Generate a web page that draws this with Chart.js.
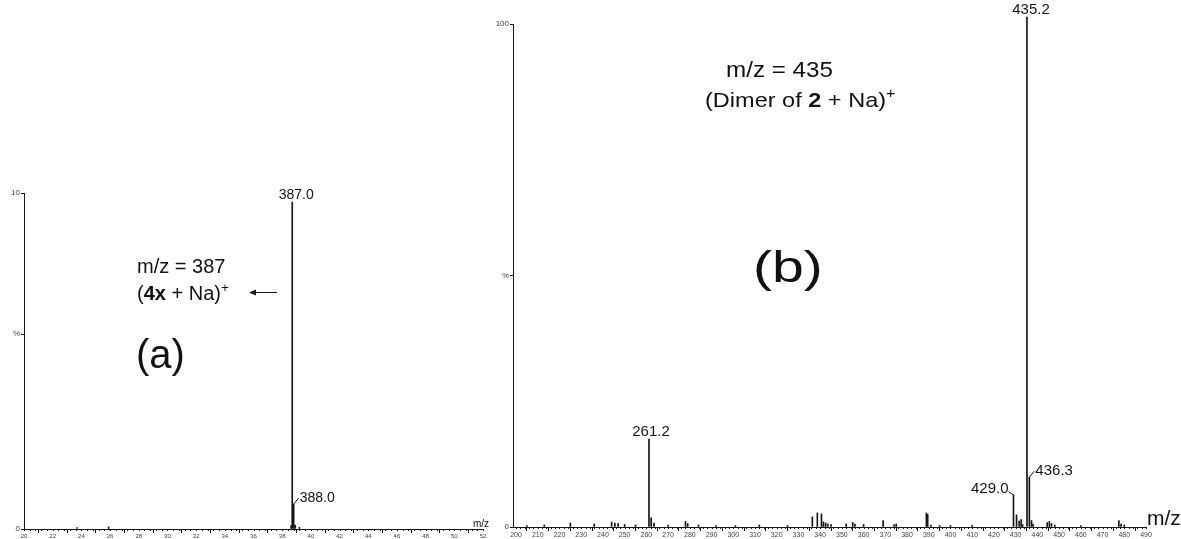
<!DOCTYPE html>
<html>
<head>
<meta charset="utf-8">
<script src="https://cdn.jsdelivr.net/npm/chart.js@4.4.0/dist/chart.umd.min.js"></script>
<style>
  body { margin: 0; background: #fff; width: 1181px; height: 539px; overflow: hidden; position: relative;
         font-family: "Liberation Sans", Arial, sans-serif; }
  .wrap { position: absolute; top: 0; height: 539px; }
  .note { position: absolute; color: #111; white-space: nowrap; line-height: 1; transform-origin: left top; }
  .note sup { font-size: 0.68em; vertical-align: 0.62em; line-height: 0; }
</style>
</head>
<body>
<div class="wrap" style="left:0;width:495px"><canvas id="chartA"></canvas></div>
<div class="wrap" style="left:490px;width:691px"><canvas id="chartB"></canvas></div>

<!-- anotações do painel (a) -->
<div class="note" style="left:137px;top:256px;font-size:20px">m/z = 387</div>
<div class="note" style="left:137px;top:283px;font-size:20px">(<b>4x</b> + Na)<sup>+</sup></div>
<div class="note" style="left:136px;top:334px;font-size:40px">(a)</div>
<div class="note" style="left:473px;top:519px;font-size:10px">m/z</div>

<!-- anotações do painel (b) -->
<div class="note" style="left:726px;top:59px;font-size:22px;transform:scaleX(1.1)">m/z = 435</div>
<div class="note" style="left:705px;top:89px;font-size:21px;transform:scaleX(1.12)">(Dimer of <b>2</b> + Na)<sup>+</sup></div>
<div class="note" style="left:753px;top:245px;font-size:44px;transform:scaleX(1.3)">(b)</div>
<div class="note" style="left:1147px;top:507px;font-size:21px">m/z</div>

<script>
// --- DADOS: painel (a) ---
const mzA = [237.0, 259.0, 386.2, 387.0, 388.0, 389.0, 392.0];
const intA = [0.4, 0.6, 1.0, 97.3, 7.4, 1.2, 0.5];
const xTicksA = [200, 220, 240, 260, 280, 300, 320, 340, 360, 380, 400, 420, 440, 460, 480, 500, 520];
const xTickLabelsA = ['20', '22', '24', '26', '28', '30', '32', '34', '36', '38', '40', '42', '44', '46', '48', '50', '52'];
const yTicksA = [0, 58, 100];
const yTickLabelsA = ['0', '%', '10'];
const peakLabelsA = [
    { mz: 387.0, text: '387.0', pos: 'top' },
    { mz: 388.0, text: '388.0', pos: 'right' }
];

// --- DADOS: painel (b) ---
const mzB = [
    205.0, 213.0, 225.0, 236.0, 244.0, 245.5, 247.0, 250.0, 255.0,
    261.2, 262.2, 263.5, 270.0, 278.0, 279.0, 284.0, 292.0, 301.0, 312.0, 325.0,
    336.4, 338.7, 340.6, 341.5, 342.5, 343.5, 345.0, 352.0, 355.0, 356.0, 360.0,
    369.0, 374.0, 375.0, 388.9, 389.5, 391.0, 395.0, 400.0, 410.0,
    429.0, 430.4, 431.6, 432.5, 433.2, 435.2, 436.3, 437.3, 438.0,
    444.5, 445.5, 446.5, 448.0, 460.0, 477.5, 478.5, 480.0
];
const intB = [
    0.3, 0.4, 0.8, 0.6, 1.0, 0.8, 0.7, 0.5, 0.4,
    17.5, 1.8, 0.8, 0.4, 1.1, 0.7, 0.4, 0.3, 0.3, 0.4, 0.3,
    2.0, 2.8, 2.6, 1.0, 0.8, 0.6, 0.5, 0.6, 0.9, 0.6, 0.5,
    1.3, 0.5, 0.6, 2.8, 2.5, 0.4, 0.3, 0.3, 0.3,
    6.4, 2.4, 1.2, 1.5, 0.5, 101.4, 9.9, 1.3, 0.6,
    0.9, 1.1, 0.7, 0.4, 0.3, 1.3, 0.6, 0.4
];
const xTicksB = [200, 210, 220, 230, 240, 250, 260, 270, 280, 290, 300, 310, 320, 330, 340,
                 350, 360, 370, 380, 390, 400, 410, 420, 430, 440, 450, 460, 470, 480, 490];
const xTickLabelsB = xTicksB.map(String);
const yTicksB = [0, 50, 100];
const yTickLabelsB = ['0', '%', '100'];
const peakLabelsB = [
    { mz: 261.2, text: '261.2', pos: 'top', dx: 2 },
    { mz: 429.0, text: '429.0', pos: 'left' },
    { mz: 435.2, text: '435.2', pos: 'top' },
    { mz: 436.3, text: '436.3', pos: 'right' }
];

const FONT = '"Liberation Sans", Arial, sans-serif';
const INK = '#151515';

// rótulos dos picos com linhas de chamada
function peakLabels(labels, mzs, ints, size) {
    return {
        id: 'peakLabels',
        afterDatasetsDraw(chart) {
            const { ctx, scales: { x, y } } = chart;
            ctx.save();
            ctx.font = size + 'px ' + FONT;
            ctx.fillStyle = INK;
            ctx.strokeStyle = INK;
            ctx.lineWidth = 1;
            labels.forEach(l => {
                const i = mzs.indexOf(l.mz);
                const px = x.getPixelForValue(l.mz);
                const py = y.getPixelForValue(ints[i]);
                if (l.pos === 'top') {
                    ctx.textAlign = 'center';
                    ctx.textBaseline = 'alphabetic';
                    ctx.fillText(l.text, px + (l.dx || 4), py - 3);
                } else if (l.pos === 'right') {
                    ctx.beginPath();
                    ctx.moveTo(px, py);
                    ctx.lineTo(px + 5, py - 6);
                    ctx.stroke();
                    ctx.textAlign = 'left';
                    ctx.fillText(l.text, px + 6, py - 2);
                } else {
                    ctx.beginPath();
                    ctx.moveTo(px, py);
                    ctx.lineTo(px - 5, py - 3);
                    ctx.stroke();
                    ctx.textAlign = 'right';
                    ctx.fillText(l.text, px - 5, py - 2);
                }
            });
            ctx.restore();
        }
    };
}

// marcas menores do eixo x (régua)
const minorTicks = {
    id: 'minorTicks',
    afterDraw(chart, args, opts) {
        const { ctx, chartArea, scales: { x } } = chart;
        ctx.save();
        ctx.strokeStyle = INK;
        ctx.lineWidth = 1;
        for (let v = opts.start; v <= x.max + 0.001; v += opts.step) {
            const px = Math.round(x.getPixelForValue(v)) + 0.5;
            ctx.beginPath();
            ctx.moveTo(px, chartArea.bottom);
            ctx.lineTo(px, chartArea.bottom + opts.len);
            ctx.stroke();
        }
        ctx.restore();
    }
};

// seta do painel (a)
const arrowA = {
    id: 'arrowA',
    afterDraw(chart) {
        const { ctx } = chart;
        ctx.save();
        ctx.strokeStyle = INK;
        ctx.fillStyle = INK;
        ctx.lineWidth = 1;
        ctx.beginPath();
        ctx.moveTo(277, 292.5);
        ctx.lineTo(252, 292.5);
        ctx.stroke();
        ctx.beginPath();
        ctx.moveTo(249, 292.5);
        ctx.lineTo(256, 289.5);
        ctx.lineTo(256, 295.5);
        ctx.closePath();
        ctx.fill();
        ctx.restore();
    }
};

function makeChart(id, cfg) {
    return new Chart(document.getElementById(id), {
        type: 'bar',
        data: {
            datasets: [{
                data: cfg.mz.map((m, i) => ({ x: m, y: cfg.int[i] })),
                backgroundColor: INK,
                barThickness: 1,
                clip: false
            }]
        },
        options: {
            responsive: true,
            maintainAspectRatio: false,
            animation: false,
            events: [],
            layout: { padding: cfg.padding },
            plugins: {
                legend: { display: false },
                tooltip: { enabled: false },
                minorTicks: cfg.minor
            },
            scales: {
                x: {
                    type: 'linear',
                    min: cfg.xMin,
                    max: cfg.xMax,
                    offset: false,
                    afterBuildTicks: s => { s.ticks = cfg.xTicks.map(v => ({ value: v })); },
                    afterFit: s => { s.height = cfg.xHeight; },
                    ticks: {
                        callback: (v, i) => cfg.xTickLabels[i],
                        font: { size: cfg.xFont, family: FONT },
                        color: '#444',
                        maxRotation: 0,
                        autoSkip: false,
                        padding: 0
                    },
                    grid: { drawOnChartArea: false, tickLength: 4, color: INK },
                    border: { color: INK }
                },
                y: {
                    min: 0,
                    max: 100,
                    afterBuildTicks: s => { s.ticks = cfg.yTicks.map(v => ({ value: v })); },
                    afterFit: s => { s.width = cfg.yWidth; },
                    ticks: {
                        callback: (v, i) => cfg.yTickLabels[i],
                        font: { size: 8, family: FONT },
                        color: '#444',
                        padding: 1
                    },
                    grid: { drawOnChartArea: false, tickLength: 3, color: INK },
                    border: { color: INK }
                }
            }
        },
        plugins: cfg.plugins
    });
}

makeChart('chartA', {
    mz: mzA, int: intA,
    xMin: 200, xMax: 520, xTicks: xTicksA, xTickLabels: xTickLabelsA, xFont: 6, xHeight: 10,
    yTicks: yTicksA, yTickLabels: yTickLabelsA, yWidth: 24,
    padding: { top: 193, right: 12, left: 0, bottom: 0 },
    minor: { start: 200, step: 4, len: 2 },
    plugins: [minorTicks, peakLabels(peakLabelsA, mzA, intA, 14), arrowA]
});

makeChart('chartB', {
    mz: mzB, int: intB,
    xMin: 198.6, xMax: 490, xTicks: xTicksB, xTickLabels: xTickLabelsB, xFont: 7, xHeight: 12,
    yTicks: yTicksB, yTickLabels: yTickLabelsB, yWidth: 23,
    padding: { top: 24, right: 35, left: 0, bottom: 0 },
    minor: { start: 200, step: 2, len: 2 },
    plugins: [minorTicks, peakLabels(peakLabelsB, mzB, intB, 15)]
});
</script>
</body>
</html>
